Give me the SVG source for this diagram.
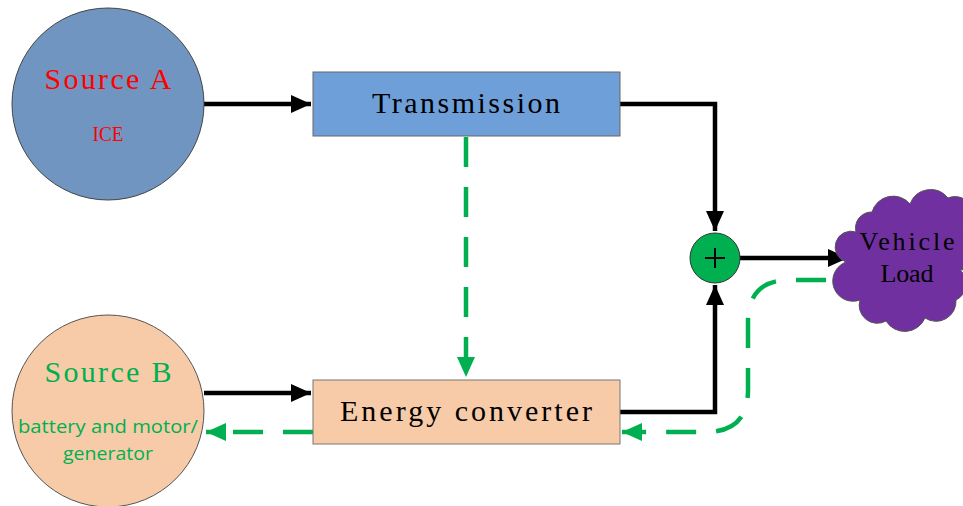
<svg xmlns="http://www.w3.org/2000/svg" width="963" height="506" viewBox="0 0 963 506">
<style>
.ser{font-family:"Liberation Serif","DejaVu Serif",serif;text-anchor:middle}
.sans{font-family:"Open Sans","Liberation Sans",sans-serif;text-anchor:middle}
.blk{fill:none;stroke:#000;stroke-width:4.5}
.grn{fill:none;stroke:#00b050;stroke-width:4.5;stroke-dasharray:30 20}
</style>
<defs>
<marker id="ab" markerUnits="userSpaceOnUse" markerWidth="20" markerHeight="20" viewBox="0 0 20 20" refX="20" refY="10" orient="auto"><path d="M0 1 L20 10 L0 19 Z" fill="#000"/></marker>
<marker id="ag" markerUnits="userSpaceOnUse" markerWidth="20" markerHeight="20" viewBox="0 0 20 20" refX="20" refY="10" orient="auto"><path d="M0 1 L20 10 L0 19 Z" fill="#00b050"/></marker>
</defs>
<g id="connectors">
<path class="blk" d="M204 104 H311" marker-end="url(#ab)"/>
<path class="blk" d="M620 104 H715 V231" marker-end="url(#ab)"/>
<path class="blk" d="M620 412 H715 V285" marker-end="url(#ab)"/>
<path class="blk" d="M740 258 H848" marker-end="url(#ab)"/>
<path class="blk" d="M204 393 H311" marker-end="url(#ab)"/>
<path class="grn" d="M466 137 V377" marker-end="url(#ag)"/>
<path class="grn" d="M313 432 H206" marker-end="url(#ag)"/>
<path class="grn" d="M826 280 H790 Q748 280 748 322 V390 Q748 432 706 432 H622" marker-end="url(#ag)"/>
</g>
<g id="sourceA">
<circle cx="108" cy="104" r="96" fill="#7095c0" stroke="#444" stroke-width="1"/>
<text class="ser" x="108" y="89" font-size="30" fill="#ff0000" textLength="127" lengthAdjust="spacing">Source A</text>
<text class="ser" x="108" y="141" font-size="21" fill="#ff0000" textLength="31" lengthAdjust="spacingAndGlyphs">ICE</text>
</g>
<g id="transmission">
<rect x="313" y="72" width="307" height="64" fill="#6f9fd9" stroke="#666" stroke-width="1"/>
<text class="ser" x="466" y="113" font-size="30" fill="#000" textLength="188" lengthAdjust="spacing">Transmission</text>
</g>
<g id="sourceB">
<circle cx="108" cy="411" r="96" fill="#f8cba8" stroke="#555" stroke-width="1"/>
<text class="ser" x="108" y="382" font-size="30" fill="#00b050" textLength="127" lengthAdjust="spacing">Source B</text>
<text class="sans" x="108" y="433" font-size="18" fill="#00b050" textLength="180" lengthAdjust="spacingAndGlyphs">battery and motor/</text>
<text class="sans" x="108" y="460" font-size="18" fill="#00b050" textLength="90" lengthAdjust="spacingAndGlyphs">generator</text>
</g>
<g id="converter">
<rect x="313" y="380" width="307" height="64" fill="#f8cba8" stroke="#777" stroke-width="1"/>
<text class="ser" x="466" y="421" font-size="30" fill="#000" textLength="252" lengthAdjust="spacing">Energy converter</text>
</g>
<g id="sum">
<circle cx="715" cy="258" r="25" fill="#00b050" stroke="#333" stroke-width="1"/>
<path d="M705 258 H725 M715 248 V268" stroke="#000" stroke-width="2" fill="none"/>
</g>
<g id="vehicle">
<path d="M846 262 A14 14 0 0 1 856 232 A16 16 0 0 1 872 212 A22 22 0 0 1 910 204 A22 22 0 0 1 948 198 A18 18 0 0 1 962 232 A16 16 0 0 1 960 270 A18 18 0 0 1 956 300 A20 20 0 0 1 925 318 A22 22 0 0 1 886 321 A18 18 0 0 1 860 300 A16 16 0 0 1 846 262 Z" fill="#7030a0" stroke="#555" stroke-width="1"/>
<text class="ser" x="907" y="250" font-size="26" fill="#000" textLength="95" lengthAdjust="spacing">Vehicle</text>
<text class="ser" x="907" y="282" font-size="26" fill="#000" textLength="53" lengthAdjust="spacing">Load</text>
</g>
</svg>
